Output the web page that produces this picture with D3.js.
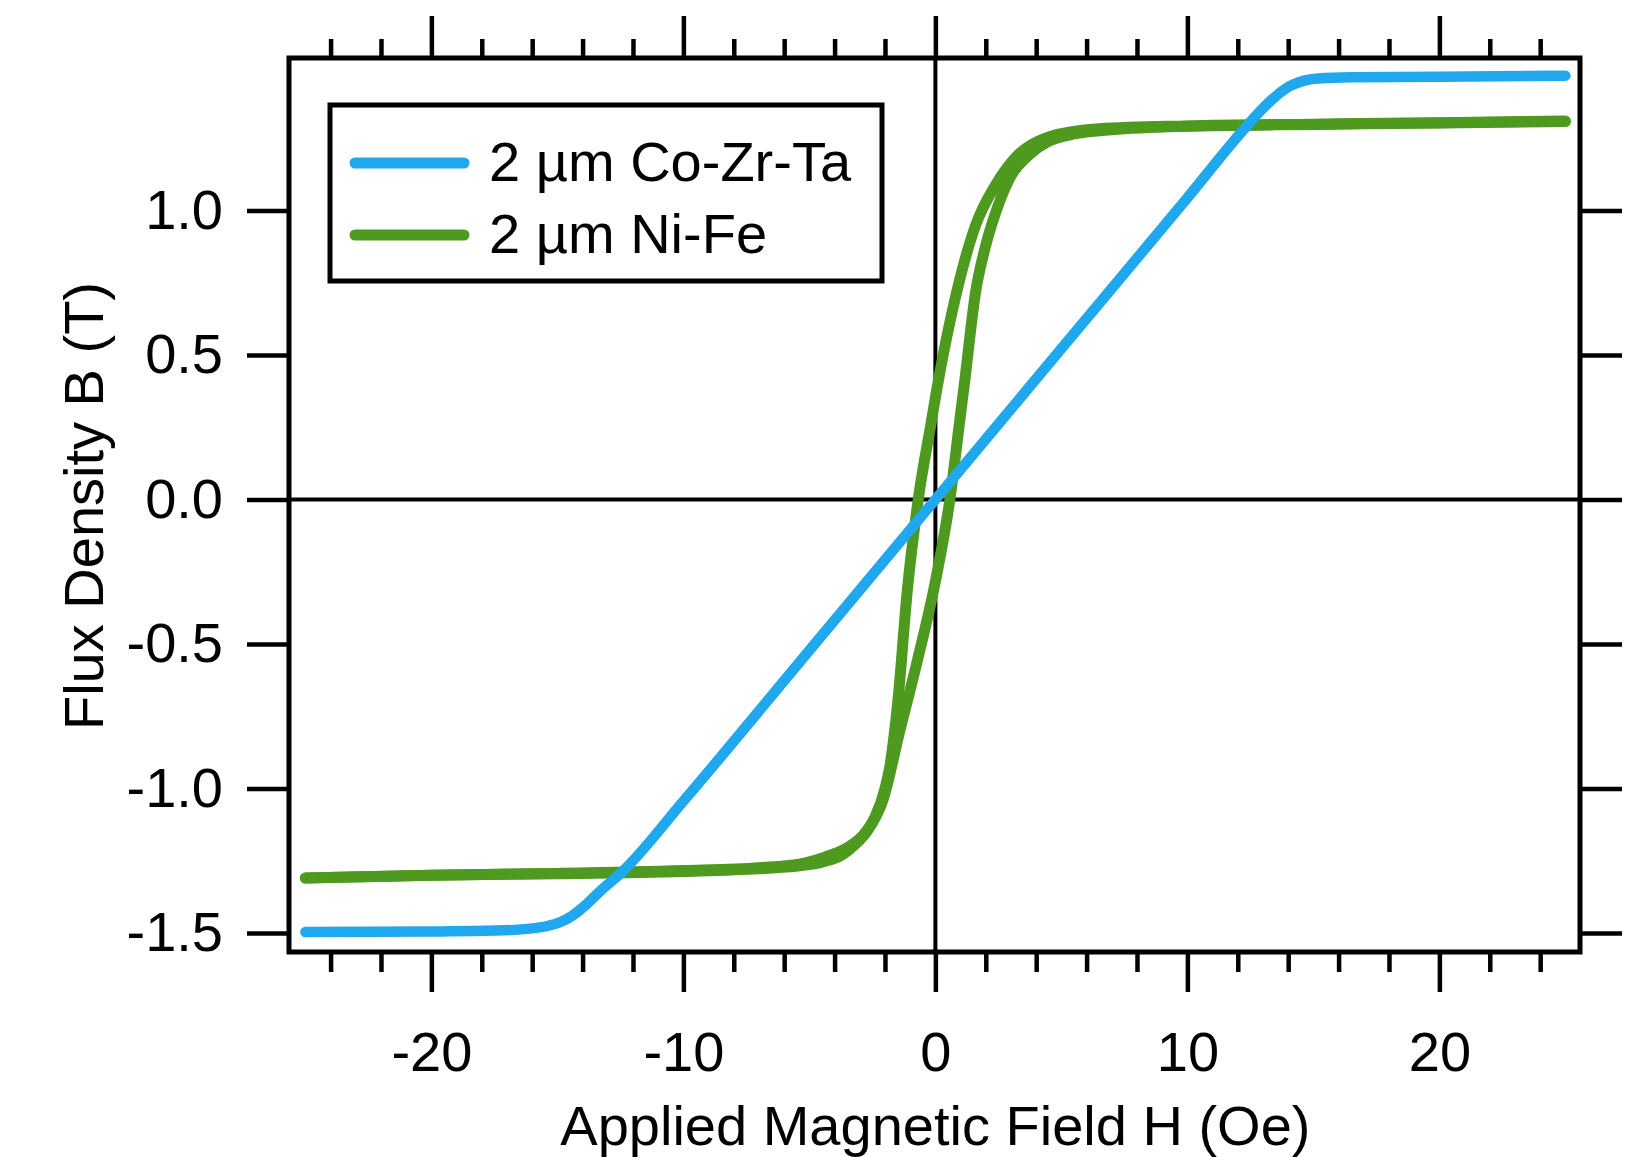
<!DOCTYPE html>
<html>
<head>
<meta charset="utf-8">
<script src="https://cdn.jsdelivr.net/npm/d3@7"></script>
<style>
  html, body { margin: 0; padding: 0; background: #fff; }
  svg { display: block; }
</style>
</head>
<body>
<svg id="chart" width="1650" height="1157"></svg>
<script>
// ---------- data ----------
const hCoZrTa = [-25, -20, -17.5, -16.2, -15.4, -14.9, -14.4, -13.9, -13.3, -12.4, -10, -5, 0, 5, 10, 12.2, 12.9, 13.5, 14.1, 14.6, 15.2, 16.5, 20, 25];
const bCoZrTa = [-1.497, -1.495, -1.492, -1.486, -1.476, -1.463, -1.44, -1.405, -1.355, -1.286, -1.044, -0.522, 0.0, 0.522, 1.044, 1.277, 1.345, 1.395, 1.432, 1.449, 1.457, 1.461, 1.463, 1.467];

// Ni-Fe descending branch (coming down from positive saturation), listed by increasing H
const hNiFeDown = [-25, -20, -15, -10, -7, -5.4, -4.2, -3.4, -2.9, -2.4, -2.0, -1.8, -1.48, -1.12, -0.68, -0.15, 0.05, 0.85, 1.6, 2.4, 3.2, 4.5, 6.5, 10, 15, 20, 25];
const bNiFeDown = [-1.31, -1.30, -1.294, -1.284, -1.274, -1.262, -1.232, -1.2, -1.165, -1.1, -1.0, -0.92, -0.69, -0.32, 0.0, 0.275, 0.378, 0.72, 0.95, 1.09, 1.185, 1.255, 1.283, 1.293, 1.299, 1.304, 1.31];

// Ni-Fe ascending branch (going up from negative saturation)
const hNiFeUp = [-25, -20, -15, -10, -7, -5.4, -4.5, -3.7, -3.2, -2.73, -2.08, -1.41, -0.75, 0.02, 0.575, 0.97, 1.15, 1.6, 2.0, 2.5, 3.0, 3.75, 4.5, 5.5, 7, 10, 15, 20, 25];
const bNiFeUp = [-1.31, -1.30, -1.295, -1.287, -1.278, -1.268, -1.255, -1.23, -1.195, -1.15, -1.04, -0.80, -0.57, -0.275, 0.0, 0.275, 0.40, 0.72, 0.88, 1.02, 1.12, 1.195, 1.24, 1.265, 1.28, 1.292, 1.298, 1.303, 1.308];

const yTickValues = [-1.5, -1.0, -0.5, 0.0, 0.5, 1.0];
const xMajorTicks = [-20, -10, 0, 10, 20];
const xMinorTicks = [-24, -22, -18, -16, -14, -12, -8, -6, -4, -2, 2, 4, 6, 8, 12, 14, 16, 18, 22, 24];
const seriesNames = ["2 \u00B5m Co-Zr-Ta", "2 \u00B5m Ni-Fe"];
const seriesColors = ["#1fa8ee", "#4d9a1f"];
const xTitle = "Applied Magnetic Field H (Oe)";
const yTitle = "Flux Density B (T)";

// ---------- layout ----------
const FONT = "'Liberation Sans', Arial, Helvetica, sans-serif";
const FS = 56;
const frame = { left: 289, right: 1580, top: 58, bottom: 952 };

const svg = d3.select("#chart");
const x = d3.scaleLinear().domain([-25.65, 25.58]).range([frame.left, frame.right]);
const y = d3.scaleLinear().domain([-1.566, 1.528]).range([frame.bottom, frame.top]);

function styleAxis(g) {
  g.attr("font-family", FONT).attr("font-size", FS);
  g.select(".domain").remove();
  g.selectAll(".tick line").attr("stroke", "#000").attr("stroke-width", 4.5);
  g.selectAll(".tick text").attr("fill", "#000");
}

// zero lines
svg.append("line")
  .attr("x1", x(0)).attr("x2", x(0))
  .attr("y1", frame.top).attr("y2", frame.bottom)
  .attr("stroke", "#000").attr("stroke-width", 4);
svg.append("line")
  .attr("x1", frame.left).attr("x2", frame.right)
  .attr("y1", y(0)).attr("y2", y(0))
  .attr("stroke", "#000").attr("stroke-width", 4);

// axes
svg.append("g").attr("transform", `translate(${frame.left},0)`)
  .call(d3.axisLeft(y).tickValues(yTickValues).tickSize(42).tickPadding(24)
    .tickFormat(d => d.toFixed(1)))
  .call(styleAxis);

svg.append("g").attr("transform", `translate(${frame.right},0)`)
  .call(d3.axisRight(y).tickValues(yTickValues).tickSize(42).tickFormat(""))
  .call(styleAxis);

svg.append("g").attr("transform", `translate(0,${frame.bottom})`)
  .call(d3.axisBottom(x).tickValues(xMajorTicks).tickSize(40).tickPadding(39)
    .tickFormat(d => String(d)))
  .call(styleAxis);

svg.append("g").attr("transform", `translate(0,${frame.bottom})`)
  .call(d3.axisBottom(x).tickValues(xMinorTicks).tickSize(20).tickFormat(""))
  .call(styleAxis);

svg.append("g").attr("transform", `translate(0,${frame.top})`)
  .call(d3.axisTop(x).tickValues(xMajorTicks).tickSize(42).tickFormat(""))
  .call(styleAxis);

svg.append("g").attr("transform", `translate(0,${frame.top})`)
  .call(d3.axisTop(x).tickValues(xMinorTicks).tickSize(19).tickFormat(""))
  .call(styleAxis);

// frame
svg.append("rect")
  .attr("x", frame.left).attr("y", frame.top)
  .attr("width", frame.right - frame.left).attr("height", frame.bottom - frame.top)
  .attr("fill", "none").attr("stroke", "#000").attr("stroke-width", 5);

// curves
const line = d3.line().x(d => x(d[0])).y(d => y(d[1])).curve(d3.curveMonotoneX);
const zip = (a, b) => a.map((v, i) => [v, b[i]]);

[zip(hNiFeDown, bNiFeDown), zip(hNiFeUp, bNiFeUp)].forEach(pts => {
  svg.append("path").attr("d", line(pts))
    .attr("fill", "none").attr("stroke", seriesColors[1]).attr("stroke-width", 11)
    .attr("stroke-linecap", "round").attr("stroke-linejoin", "round");
});
svg.append("path").attr("d", line(zip(hCoZrTa, bCoZrTa)))
  .attr("fill", "none").attr("stroke", seriesColors[0]).attr("stroke-width", 10.5)
  .attr("stroke-linecap", "round").attr("stroke-linejoin", "round");

// legend
const leg = svg.append("g");
leg.append("rect").attr("x", 330).attr("y", 105).attr("width", 552).attr("height", 176)
  .attr("fill", "#fff").attr("stroke", "#000").attr("stroke-width", 5);
const legY = [163, 235];
seriesNames.forEach((name, i) => {
  leg.append("line").attr("x1", 355).attr("x2", 464).attr("y1", legY[i]).attr("y2", legY[i])
    .attr("stroke", seriesColors[i]).attr("stroke-width", 11).attr("stroke-linecap", "round");
  leg.append("text").attr("x", 489).attr("y", legY[i] + 18)
    .attr("font-family", FONT).attr("font-size", FS).attr("fill", "#000")
    .text(name);
});

// titles
svg.append("text")
  .attr("x", x(0)).attr("y", 1145).attr("text-anchor", "middle")
  .attr("font-family", FONT).attr("font-size", FS).attr("fill", "#000")
  .text(xTitle);
svg.append("text")
  .attr("transform", `translate(103,506) rotate(-90)`).attr("text-anchor", "middle")
  .attr("font-family", FONT).attr("font-size", FS).attr("fill", "#000")
  .text(yTitle);
</script>
</body>
</html>
